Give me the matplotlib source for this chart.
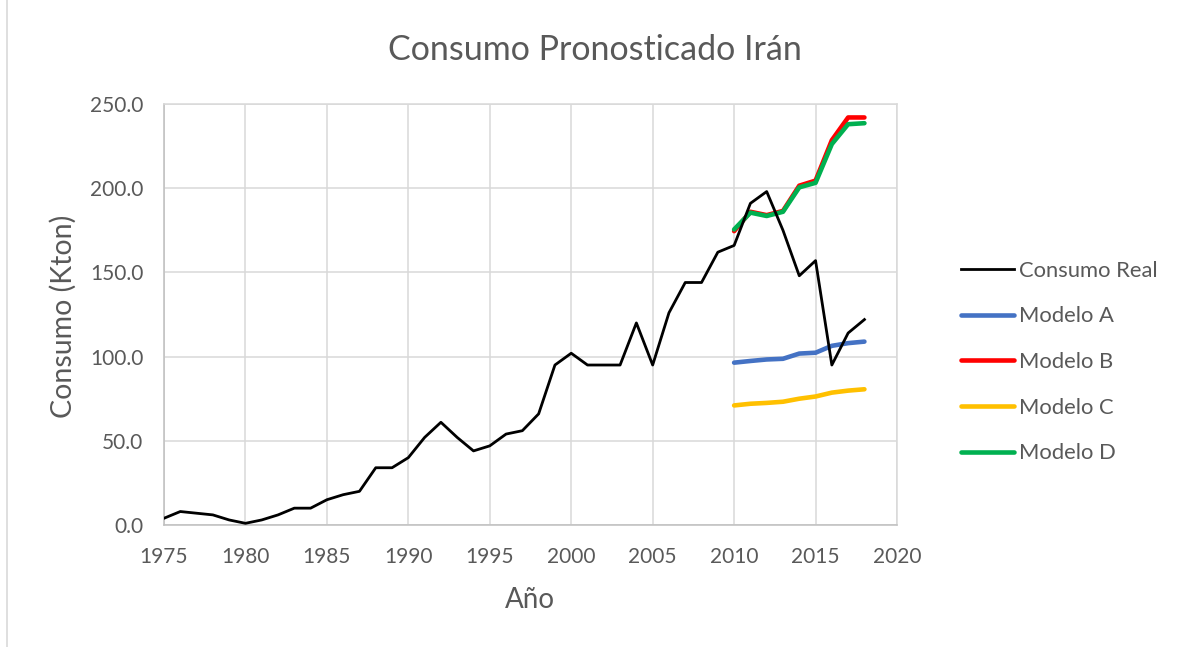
import matplotlib
matplotlib.use("Agg")
import matplotlib.pyplot as plt
from matplotlib.lines import Line2D

plt.rcParams['font.family'] = ['Lato', 'DejaVu Sans']

# datos
anios_real = list(range(1975, 2019))
consumo_real = [4, 8, 7, 6, 3, 1, 3, 6, 10, 10,
                15, 18, 20, 34, 34, 40, 52, 61, 52, 44,
                47, 54, 56, 66, 95, 102, 95, 95, 95, 120,
                95, 126, 144, 144, 162, 166, 191, 198, 175, 148,
                157, 95, 114, 122]

anios_modelo = list(range(2010, 2019))
modelo_a = [96.4, 97.4, 98.3, 98.7, 101.8, 102.3, 106.4, 108.0, 108.9]
modelo_b = [174.5, 186.0, 184.0, 186.5, 201.5, 204.5, 228.5, 242.0, 242.0]
modelo_c = [71.0, 72.0, 72.5, 73.2, 75.0, 76.3, 78.6, 79.8, 80.6]
modelo_d = [175.5, 185.5, 183.5, 186.0, 200.5, 203.2, 226.2, 238.0, 238.6]

etiquetas = ['Consumo Real', 'Modelo A', 'Modelo B', 'Modelo C', 'Modelo D']
colores = ['#000000', '#4472C4', '#FF0000', '#FFC000', '#00B050']

gris_texto = '#595959'
gris_linea = '#d9d9d9'

fig = plt.figure(figsize=(11.8, 6.47), dpi=100)
ax = fig.add_axes([164 / 1180, 1 - 525 / 647, (897 - 164) / 1180, (525 - 104) / 647])

ax.plot(anios_modelo, modelo_a, color=colores[1], lw=3.3, solid_capstyle='round', zorder=3)
ax.plot(anios_modelo, modelo_b, color=colores[2], lw=3.3, solid_capstyle='round', zorder=3)
ax.plot(anios_modelo, modelo_c, color=colores[3], lw=3.3, solid_capstyle='round', zorder=3)
ax.plot(anios_modelo, modelo_d, color=colores[4], lw=3.3, solid_capstyle='round', zorder=4)
ax.plot(anios_real, consumo_real, color=colores[0], lw=2.0, zorder=5)

ax.set_xlim(1975, 2020)
ax.set_ylim(0, 250)
ax.set_xticks(range(1975, 2021, 5))
ax.set_yticks(range(0, 251, 50))
ax.set_yticklabels(['%.1f' % v for v in range(0, 251, 50)])
ax.grid(True, color=gris_linea, lw=1.1)
ax.set_axisbelow(True)
for s in ax.spines.values():
    s.set_color(gris_linea)
    s.set_linewidth(1.1)
ax.spines['left'].set_color('#bfbfbf')
ax.spines['bottom'].set_color('#bfbfbf')
ax.tick_params(length=0, labelsize=15, labelcolor=gris_texto)
ax.tick_params(axis='y', pad=15)
ax.tick_params(axis='x', pad=16)

fig.text(595 / 1180, 1 - 50 / 647, 'Consumo Pronosticado Irán', fontsize=24.5,
         color=gris_texto, ha='center', va='center')
fig.text(530 / 1180, 1 - 600 / 647, 'Año', fontsize=20, color=gris_texto,
         ha='center', va='center')
fig.text(63 / 1180, 1 - 316 / 647, 'Consumo (Kton)', fontsize=20.5, color=gris_texto,
         ha='center', va='center', rotation=90)

handles = [Line2D([], [], color=colores[0], lw=2.0)]
for c in colores[1:]:
    handles.append(Line2D([], [], color=c, lw=3.3, solid_capstyle='round'))
leg = fig.legend(handles, etiquetas, loc='center left',
                 bbox_to_anchor=(961 / 1180, 1 - 362 / 647), frameon=False,
                 fontsize=15.8, handlelength=2.4, handletextpad=0.25,
                 labelspacing=1.17, borderpad=0, borderaxespad=0)
for t in leg.get_texts():
    t.set_color(gris_texto)

# borde del grafico
fig.add_artist(Line2D([7 / 1180, 7 / 1180], [0, 1], color=gris_linea, lw=1.2))

fig.savefig('out.png', dpi=100)
